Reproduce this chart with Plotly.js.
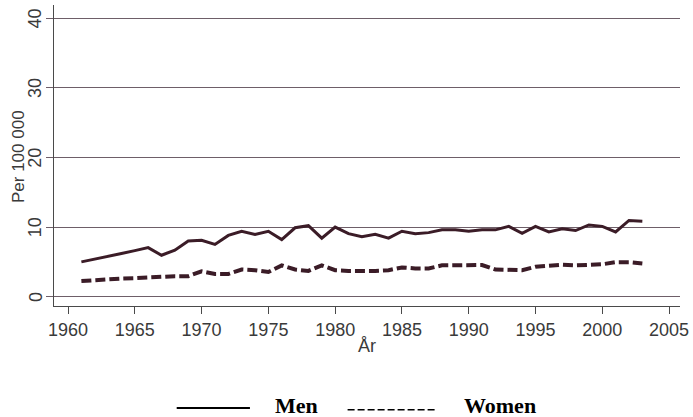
<!DOCTYPE html>
<html>
<head>
<meta charset="utf-8">
<script src="https://cdn.plot.ly/plotly-3.0.1.min.js"></script>
<style>
  html, body { margin: 0; padding: 0; background: #ffffff; }
  #chart { width: 693px; height: 417px; }
</style>
</head>
<body>
<div id="chart"></div>
<script>
const years = [1961, 1962, 1963, 1964, 1965, 1966, 1967, 1968, 1969, 1970,
               1971, 1972, 1973, 1974, 1975, 1976, 1977, 1978, 1979, 1980,
               1981, 1982, 1983, 1984, 1985, 1986, 1987, 1988, 1989, 1990,
               1991, 1992, 1993, 1994, 1995, 1996, 1997, 1998, 1999, 2000,
               2001, 2002, 2003];
const men = [5.0, 5.37, 5.76, 6.19, 6.62, 7.05, 5.95, 6.67, 8.0, 8.1,
             7.5, 8.8, 9.4, 8.95, 9.4, 8.2, 9.9, 10.2, 8.4, 10.0,
             9.05, 8.6, 8.95, 8.4, 9.4, 9.05, 9.2, 9.6, 9.6, 9.4,
             9.6, 9.6, 10.1, 9.1, 10.1, 9.3, 9.75, 9.5, 10.3, 10.1,
             9.3, 10.95, 10.85];
const women = [2.24, 2.4, 2.5, 2.6, 2.65, 2.75, 2.95, 2.95, 2.95, 3.65,
               3.25, 3.25, 3.9, 3.8, 3.55, 4.5, 3.9, 3.7, 4.5, 3.8,
               3.7, 3.65, 3.7, 3.8, 4.2, 4.05, 4.05, 4.5, 4.5, 4.5,
               4.55, 3.9, 3.8, 3.8, 4.3, 4.4, 4.6, 4.5, 4.6, 4.65,
               4.95, 4.95, 4.75];
const xTicks = [1960, 1965, 1970, 1975, 1980, 1985, 1990, 1995, 2000, 2005];
const yTicks = [0, 10, 20, 30, 40];
const seriesNames = ["Men", "Women"];
const yTitle = "Per 100 000";
const xTitle = "År";

const lineColor = "#3b1c27";
const gridColor = "#6e5e68";
const axisColor = "#4a4a4a";
const fontFamily = "Liberation Sans, Arial, sans-serif";
const tickColor = "#3a3a3a";
const tickFont = {family: fontFamily, size: 18, color: tickColor};

const traces = [
  {x: years, y: men, name: seriesNames[0], type: "scatter", mode: "lines",
   line: {color: lineColor, width: 3}},
  {x: years, y: women, name: seriesNames[1], type: "scatter", mode: "lines",
   line: {color: lineColor, width: 4, dash: "10px,4px"}}
];

const legendFont = {family: "Liberation Serif, Times New Roman, serif", size: 22, color: "#000000"};

// rotated y tick labels (Stata style), placed on the y scale at the tick values
const yTickLabels = yTicks.map(function (v) {
  return {text: String(v), xref: "paper", yref: "y", x: -0.030, y: v,
          xanchor: "center", yanchor: "middle", textangle: -90,
          showarrow: false, font: tickFont};
});

const layout = {
  width: 693, height: 417,
  margin: {l: 54, r: 13, t: 5, b: 111},
  paper_bgcolor: "#ffffff", plot_bgcolor: "#ffffff",
  showlegend: false,
  xaxis: {
    range: [1958.95, 2005.82],
    tickmode: "array", tickvals: xTicks,
    ticks: "outside", ticklen: 7, tickcolor: axisColor, tickwidth: 1,
    showgrid: false, zeroline: false,
    showline: true, linecolor: axisColor, linewidth: 1.2,
    tickfont: tickFont,
    title: {text: xTitle, font: tickFont, standoff: 0}
  },
  yaxis: {
    range: [-1.34, 41.9],
    tickmode: "array", tickvals: yTicks,
    ticks: "outside", ticklen: 7, tickcolor: gridColor, tickwidth: 1,
    showticklabels: false,
    showgrid: true, gridcolor: gridColor, gridwidth: 1,
    zeroline: false,
    showline: true, linecolor: axisColor, linewidth: 1.2
  },
  shapes: [
    {type: "line", xref: "paper", yref: "paper", x0: 0.196, x1: 0.313, y0: -0.339, y1: -0.339,
     line: {color: "#000000", width: 2}},
    {type: "line", xref: "paper", yref: "paper", x0: 0.469, x1: 0.612, y0: -0.345, y1: -0.345,
     line: {color: "#000000", width: 1.5, dash: "7px,3px"}}
  ],
  annotations: yTickLabels.concat([
    {text: yTitle, xref: "paper", yref: "paper", x: -0.0575, y: 0.495,
     xanchor: "center", yanchor: "middle", textangle: -90, showarrow: false,
     font: {family: fontFamily, size: 17, color: tickColor}},
    {text: "<b>" + seriesNames[0] + "</b>", xref: "paper", yref: "paper", x: 0.35, y: -0.332,
     xanchor: "left", yanchor: "middle", showarrow: false, font: legendFont},
    {text: "<b>" + seriesNames[1] + "</b>", xref: "paper", yref: "paper", x: 0.652, y: -0.332,
     xanchor: "left", yanchor: "middle", showarrow: false, font: legendFont}
  ])
};

Plotly.newPlot("chart", traces, layout, {displayModeBar: false, staticPlot: true});
</script>
</body>
</html>
